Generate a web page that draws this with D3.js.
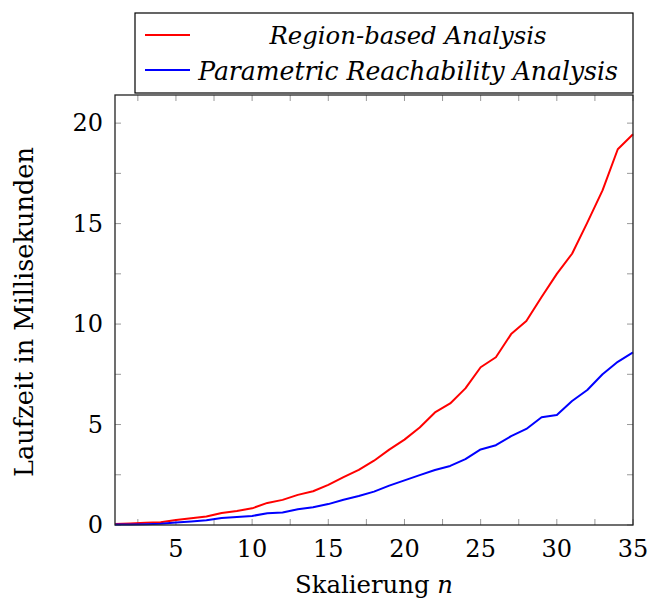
<!DOCTYPE html>
<html><head><meta charset="utf-8">
<script src="https://cdn.jsdelivr.net/npm/d3@7"></script>
<style>body{margin:0;background:#fff;}svg{display:block;}</style>
</head><body>
<svg id="c" width="648" height="601"></svg>
<script>
const nValues = d3.range(1, 36);
const regionBased = [0.05,0.08,0.11,0.14,0.25,0.33,0.42,0.60,0.70,0.83,1.10,1.25,1.50,1.68,2.00,2.38,2.74,3.20,3.75,4.25,4.85,5.60,6.05,6.80,7.85,8.35,9.50,10.15,11.35,12.50,13.50,15.05,16.65,18.70,19.45];
const parametric = [0.02,0.03,0.04,0.06,0.12,0.18,0.24,0.35,0.40,0.45,0.58,0.62,0.78,0.88,1.04,1.26,1.44,1.66,1.96,2.22,2.48,2.74,2.94,3.28,3.76,3.97,4.42,4.78,5.36,5.47,6.17,6.72,7.50,8.12,8.59];
const seriesNames = ["Region-based Analysis", "Parametric Reachability Analysis"];
const seriesColors = ["#ff0000", "#0000ff"];
const xTicks = [5,10,15,20,25,30,35];
const xMinor = [2.5,7.5,12.5,17.5,22.5,27.5,32.5];
const yTicks = [0,5,10,15,20];
const yMinor = [2.5,7.5,12.5,17.5];

const svg = d3.select("#c");
const L = 115, R = 633, T = 95, B = 525;
const x = d3.scaleLinear().domain([1,35]).range([L,R]);
const y = d3.scaleLinear().domain([0,21.4]).range([B,T]);
const font = "'DejaVu Serif', 'Liberation Serif', serif";
const tickCol = "#999";

function fit(sel, target) {
  const w = sel.node().getComputedTextLength();
  const fs = parseFloat(sel.attr("font-size"));
  if (w > 0) sel.attr("font-size", fs * target / w);
}

const g = svg.append("g");
[...xTicks, ...xMinor].forEach(v => {
  g.append("line").attr("x1",x(v)).attr("x2",x(v)).attr("y1",B).attr("y2",B-6).attr("stroke",tickCol).attr("stroke-width",1);
  g.append("line").attr("x1",x(v)).attr("x2",x(v)).attr("y1",T).attr("y2",T+6).attr("stroke",tickCol).attr("stroke-width",1);
});
[...yTicks, ...yMinor].forEach(v => {
  g.append("line").attr("x1",L).attr("x2",L+6).attr("y1",y(v)).attr("y2",y(v)).attr("stroke",tickCol).attr("stroke-width",1);
  g.append("line").attr("x1",R).attr("x2",R-6).attr("y1",y(v)).attr("y2",y(v)).attr("stroke",tickCol).attr("stroke-width",1);
});

xTicks.forEach(v => svg.append("text").attr("x",x(v)).attr("y",557).attr("text-anchor","middle")
  .attr("font-family",font).attr("font-size",24).text(v));
yTicks.forEach(v => svg.append("text").attr("x",103).attr("y",y(v)+8).attr("text-anchor","end")
  .attr("font-family",font).attr("font-size",24).text(v));

const line = d3.line().x((d,i)=>x(nValues[i])).y(d=>y(d));
[regionBased, parametric].forEach((s,k) => {
  svg.append("path").datum(s).attr("d",line).attr("fill","none")
    .attr("stroke",seriesColors[k]).attr("stroke-width",2).attr("stroke-linejoin","round");
});

svg.append("rect").attr("x",L).attr("y",T).attr("width",R-L).attr("height",B-T)
  .attr("fill","none").attr("stroke","#222").attr("stroke-width",1.3);

const xt = svg.append("text").attr("x",374).attr("y",593).attr("text-anchor","middle")
  .attr("font-family",font).attr("font-size",24);
xt.append("tspan").text("Skalierung ");
xt.append("tspan").attr("font-style","italic").text("n");
fit(xt, 158);
const yt = svg.append("text").attr("transform","translate(33,312) rotate(-90)").attr("text-anchor","middle")
  .attr("font-family",font).attr("font-size",24).text("Laufzeit in Millisekunden");
fit(yt, 330);

svg.append("rect").attr("x",135).attr("y",13).attr("width",498).attr("height",80)
  .attr("fill","#fff").attr("stroke","#000").attr("stroke-width",1.2);
const legendWidths = [277, 420];
seriesNames.forEach((name,k) => {
  const ly = 35 + k*35;
  svg.append("line").attr("x1",145).attr("x2",190).attr("y1",ly).attr("y2",ly)
    .attr("stroke",seriesColors[k]).attr("stroke-width",2);
  const t = svg.append("text").attr("x",408).attr("y",44 + k*36).attr("text-anchor","middle")
    .attr("font-family",font).attr("font-style","italic").attr("font-size",24).text(name);
  fit(t, legendWidths[k]);
});
</script>
</body></html>
